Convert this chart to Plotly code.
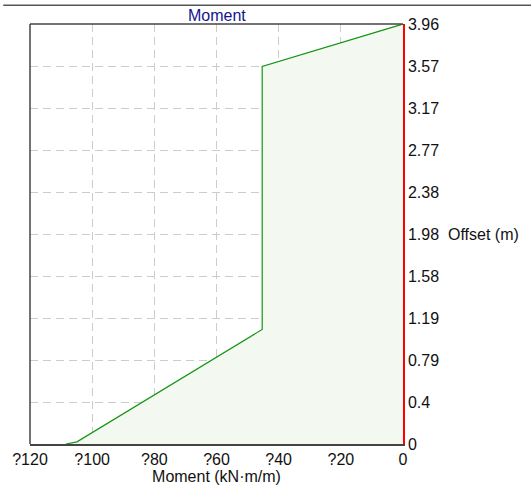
import plotly.graph_objects as go

moment = [0.0, -45.3, -45.3, -104.9, -108.4]
offset = [3.96, 3.56, 1.08, 0.02, 0.0]
x_ticks = [-120, -100, -80, -60, -40, -20, 0]
x_labels = ["?120", "?100", "?80", "?60", "?40", "?20", "0"]
y_ticks = [0, 0.396, 0.792, 1.188, 1.584, 1.98, 2.376, 2.772, 3.168, 3.564, 3.96]
y_labels = ["0", "0.4", "0.79", "1.19", "1.58", "1.98", "2.38", "2.77", "3.17", "3.57", "3.96"]

FONT = "Liberation Sans, Arial, sans-serif"

fig = go.Figure()
fig.add_trace(go.Scatter(
    x=moment + [0.0], y=offset + [0.0], mode="none", fill="toself",
    fillcolor="rgb(243,249,241)", hoverinfo="skip", showlegend=False))
fig.add_trace(go.Scatter(
    x=moment, y=offset, mode="lines", line=dict(color="rgb(20,150,20)", width=1.2),
    showlegend=False))

fig.update_layout(
    width=532, height=493,
    margin=dict(l=27, r=129, t=24, b=45),
    paper_bgcolor="white", plot_bgcolor="white",
    font=dict(family=FONT, size=16, color="#111111"),
    xaxis=dict(range=[-120, 0], tickvals=x_ticks, ticktext=x_labels,
               showgrid=True, gridcolor="#cccccc", griddash="8px,5px", gridwidth=1,
               showline=True, linecolor="#444444", linewidth=1.5,
               zeroline=False, ticks="", ticklen=0,
               title=dict(text="Moment (kN·m/m)", standoff=2,
                          font=dict(size=16, family=FONT))),
    yaxis=dict(range=[0, 3.96], side="right", tickvals=y_ticks, ticktext=y_labels,
               showgrid=True, gridcolor="#cccccc", griddash="8px,5px", gridwidth=1,
               showline=True, linecolor="red", linewidth=1.5,
               zeroline=False, ticks="", ticklen=0),
    shapes=[
        dict(type="line", xref="paper", yref="paper", x0=0, x1=0, y0=0, y1=1,
             line=dict(color="#444444", width=1.5)),
        dict(type="line", xref="paper", yref="paper", x0=0, x1=1, y0=1, y1=1,
             line=dict(color="#444444", width=1.5)),
        dict(type="line", xref="paper", yref="paper", x0=-27/376, x1=(532-27)/376,
             y0=(448-5)/424, y1=(448-5)/424, line=dict(color="#555555", width=1.5)),
    ],
    annotations=[
        dict(text="Moment", xref="paper", yref="paper", x=0.5, y=1, yanchor="bottom",
             showarrow=False, yshift=-2, font=dict(size=16, color="rgb(20,20,140)", family=FONT)),
        dict(text="Offset (m)", xref="paper", yref="paper", x=1, y=0.5, xanchor="left",
             showarrow=False, xshift=43, font=dict(size=16, family=FONT)),
    ],
)

fig.write_html("out.html", config={"displayModeBar": False},
               post_script="document.body.style.margin='0';document.body.style.overflow='hidden';")
